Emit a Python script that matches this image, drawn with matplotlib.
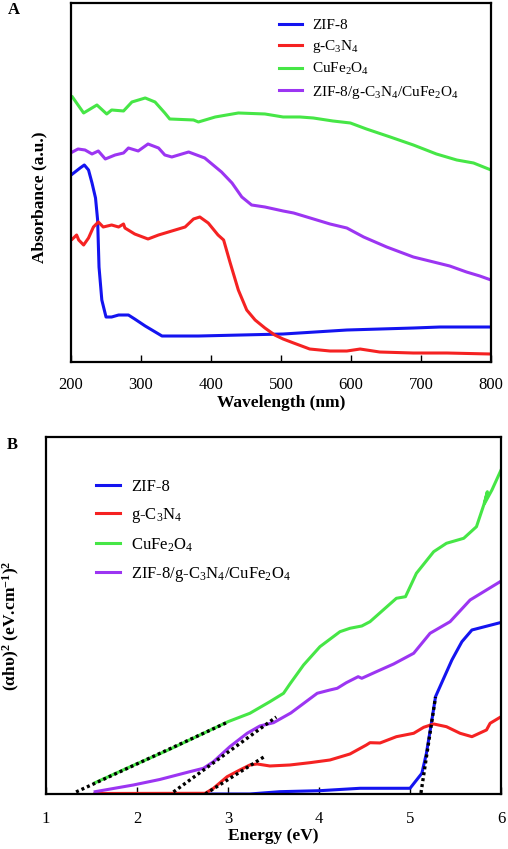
import matplotlib
matplotlib.use("Agg")
import matplotlib.pyplot as plt

# --- Fonts ---
plt.rcParams['font.family'] = ['Liberation Serif', 'DejaVu Serif']
plt.rcParams['mathtext.fontset'] = 'custom'
plt.rcParams['mathtext.rm'] = 'Liberation Serif'
plt.rcParams['mathtext.it'] = 'Liberation Serif:italic'
plt.rcParams['mathtext.bf'] = 'Liberation Serif:bold'

# --- Panel A data: absorbance (a.u.) vs wavelength (nm) ---
zif_wl = [202, 213, 219, 225, 230, 235, 238, 240, 244, 250, 258, 268, 282, 291, 306, 330, 382, 503, 594, 689, 727, 800]
zif_abs = [1.88, 1.94, 1.97, 1.92, 1.79, 1.64, 1.42, 0.95, 0.62, 0.45, 0.45, 0.47, 0.47, 0.43, 0.36, 0.26, 0.26, 0.28, 0.32, 0.34, 0.35, 0.35]

gcn_wl = [202, 208, 211, 218, 225, 232, 239, 246, 258, 268, 275, 277, 291, 310, 325, 344, 363, 375, 384, 396,
          410, 418, 427, 439, 451, 463, 477, 491, 503, 518, 541, 570, 594, 613, 641, 689, 737, 800]
gcn_abs = [1.23, 1.27, 1.22, 1.17, 1.24, 1.35, 1.40, 1.35, 1.37, 1.35, 1.38, 1.34, 1.28, 1.23, 1.27, 1.31, 1.35, 1.43, 1.45, 1.39,
           1.27, 1.22, 1.00, 0.72, 0.52, 0.42, 0.34, 0.27, 0.23, 0.19, 0.13, 0.11, 0.11, 0.13, 0.10, 0.09, 0.09, 0.08]

cuf_wl = [202, 218, 237, 251, 258, 275, 287, 306, 320, 334, 341, 375, 382, 406, 439, 477, 503,
          527, 546, 574, 599, 622, 656, 689, 722, 751, 775, 800]
cuf_abs = [2.65, 2.49, 2.57, 2.48, 2.52, 2.51, 2.60, 2.64, 2.60, 2.49, 2.43, 2.42, 2.40, 2.45, 2.49, 2.48, 2.45,
           2.45, 2.44, 2.41, 2.39, 2.33, 2.25, 2.17, 2.08, 2.02, 1.99, 1.92]

comp_wl = [202, 210, 220, 230, 239, 249, 263, 275, 282, 296, 310, 325, 334, 344, 368, 391, 415, 430, 444, 458, 477, 503,
           518, 537, 570, 594, 618, 651, 689, 718, 741, 765, 784, 800]
comp_abs = [2.10, 2.13, 2.12, 2.08, 2.11, 2.03, 2.07, 2.09, 2.14, 2.11, 2.18, 2.14, 2.07, 2.05, 2.10, 2.04, 1.90, 1.79, 1.65, 1.57, 1.55, 1.51,
            1.49, 1.45, 1.38, 1.34, 1.25, 1.15, 1.05, 1.00, 0.96, 0.90, 0.86, 0.82]

# --- Panel B data: (ahv)^2 vs energy (eV) ---
zif_e = [1.54, 3.24, 3.57, 4.01, 4.45, 5.00, 5.13, 5.18, 5.24, 5.28, 5.37, 5.46, 5.53, 5.57, 5.68, 5.99]
zif_t = [0.0, 0.0, 0.023, 0.033, 0.057, 0.057, 0.207, 0.407, 0.74, 0.973, 1.157, 1.34, 1.457, 1.523, 1.64, 1.713]

gcn_e = [1.54, 2.75, 2.84, 2.99, 3.13, 3.24, 3.32, 3.46, 3.68, 3.90, 4.12, 4.34, 4.52, 4.56, 4.67, 4.85,
         5.04, 5.15, 5.26, 5.40, 5.55, 5.68, 5.84, 5.88, 5.99]
gcn_t = [0.005, 0.007, 0.057, 0.173, 0.24, 0.29, 0.30, 0.28, 0.29, 0.313, 0.34, 0.40, 0.49, 0.513, 0.51, 0.573,
         0.607, 0.667, 0.70, 0.673, 0.607, 0.573, 0.64, 0.707, 0.767]

cuf_e = [1.54, 1.92, 2.36, 3.00, 3.24, 3.46, 3.61, 3.68, 3.83, 4.01, 4.23, 4.34, 4.47, 4.56, 4.85, 4.95,
         5.07, 5.26, 5.40, 5.59, 5.73, 5.81, 5.85, 5.82, 5.90, 6.0]
cuf_t = [0.113, 0.27, 0.447, 0.723, 0.807, 0.923, 1.007, 1.10, 1.29, 1.473, 1.623, 1.657, 1.68, 1.723, 1.957, 1.973,
         2.207, 2.423, 2.507, 2.557, 2.673, 2.89, 3.023, 2.907, 3.04, 3.24]

comp_e = [1.54, 1.96, 2.25, 2.58, 2.73, 2.84, 3.02, 3.21, 3.35, 3.50, 3.69, 3.98, 4.12, 4.20, 4.30, 4.43, 4.47,
          4.63, 4.82, 5.04, 5.22, 5.44, 5.66, 5.99]
comp_t = [0.023, 0.09, 0.145, 0.223, 0.257, 0.323, 0.473, 0.607, 0.68, 0.713, 0.81, 1.007, 1.04, 1.057, 1.113, 1.173, 1.157,
          1.223, 1.30, 1.407, 1.607, 1.723, 1.94, 2.123]

# Tauc tangent lines (start/end)
fit_cuf_e, fit_cuf_t = [1.33, 3.00], [0.02, 0.72]
fit_comp_e, fit_comp_t = [2.40, 3.53], [0.02, 0.77]
fit_gcn_e, fit_gcn_t = [2.75, 3.41], [0.0, 0.38]
fit_zif_e, fit_zif_t = [5.12, 5.28], [0.01, 0.97]

labels = ['ZIF-8', 'g-C$_3$N$_4$', 'CuFe$_2$O$_4$', 'ZIF-8/g-C$_3$N$_4$/CuFe$_2$O$_4$']
colors = ['#1414F0', '#F52222', '#46E646', '#9C35F2']

fig = plt.figure(figsize=(5.08, 8.49), dpi=100)
axA = fig.add_axes([0.1398, 0.5736, 0.8268, 0.4229])
axB = fig.add_axes([0.0906, 0.0648, 0.8957, 0.4205])

lw = 2.2
# --- Panel A ---
for xs, ys, c, lab in zip([zif_wl, gcn_wl, cuf_wl, comp_wl], [zif_abs, gcn_abs, cuf_abs, comp_abs], colors, labels):
    axA.plot(xs, ys, color=c, lw=lw, label=lab, solid_joinstyle='round')
axA.set_xlim(200, 800)
axA.set_ylim(0, 3.59)
axA.set_xticks(range(200, 801, 100))
axA.set_yticks([])
axA.tick_params(axis='x', direction='in', length=5, width=1, labelsize=12, pad=11)
axA.set_xlabel('Wavelength (nm)', fontsize=12.5, fontweight='bold', labelpad=1)
axA.set_ylabel('Absorbance (a.u.)', fontsize=12.5, fontweight='bold')
axA.yaxis.set_label_coords(-0.057, 0.46)
axA.legend(loc='upper left', bbox_to_anchor=(0.48, 0.974), frameon=False, fontsize=11,
           handlelength=1.55, handletextpad=0.65, labelspacing=0.4, borderaxespad=0)

# --- Panel B ---
for xs, ys, c, lab in zip([zif_e, gcn_e, cuf_e, comp_e], [zif_t, gcn_t, cuf_t, comp_t], colors, labels):
    axB.plot(xs, ys, color=c, lw=lw, label=lab, solid_joinstyle='round')
for xs, ys in [(fit_cuf_e, fit_cuf_t), (fit_comp_e, fit_comp_t), (fit_gcn_e, fit_gcn_t), (fit_zif_e, fit_zif_t)]:
    axB.plot(xs, ys, color='black', lw=2.4, linestyle=(0, (0.9, 0.9)), zorder=5)
axB.set_xlim(1, 6)
axB.set_ylim(0, 3.57)
axB.set_xticks(range(1, 7))
axB.set_yticks([])
axB.tick_params(axis='x', direction='in', length=5, width=1, labelsize=12, pad=12)
axB.set_xlabel('Energy (eV)', fontsize=12.5, fontweight='bold', labelpad=1)
axB.set_ylabel(r'(αhυ)$^\mathbf{2}$ (eV.cm$^\mathbf{-1}$)$^\mathbf{2}$', fontsize=12.5, fontweight='bold')
axB.yaxis.set_label_coords(-0.053, 0.47)
axB.legend(loc='upper left', bbox_to_anchor=(0.095, 0.902), frameon=False, fontsize=12,
           handlelength=1.45, handletextpad=0.65, labelspacing=0.68, borderaxespad=0)

for ax in (axA, axB):
    for sp in ax.spines.values():
        sp.set_linewidth(1.6)

fig.text(8 / 508, 1 - 10 / 849, 'A', fontsize=12, fontweight='bold', va='center', ha='left')
fig.text(7 / 508, 1 - 445 / 849, 'B', fontsize=12, fontweight='bold', va='center', ha='left')

fig.savefig('out.png', dpi=100)
